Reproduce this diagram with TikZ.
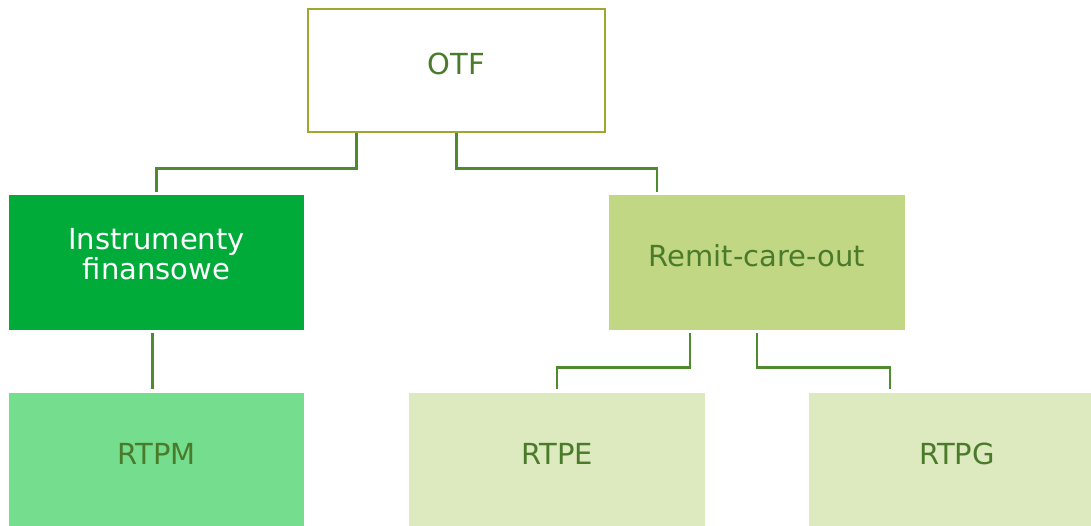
\documentclass[tikz,border=0pt]{standalone}
\usepackage{fontspec}
\setmainfont{DejaVu Sans}
\usepackage{tikz}
\usetikzlibrary{positioning}
\definecolor{txtgreen}{HTML}{4A7B2A}
\definecolor{lngreen}{HTML}{4E8B2F}
\definecolor{olive}{HTML}{9CA82E}
\definecolor{fingreen}{HTML}{00AB39}
\definecolor{remgreen}{HTML}{C2D784}
\definecolor{rtpmgreen}{HTML}{75DE8E}
\definecolor{rtpgreen}{HTML}{DDE9BE}
\tikzstyle{box}=[rectangle, inner sep=0pt, minimum width=296pt, minimum height=135pt, text height=21pt, text depth=13pt, text=txtgreen, font=\fontsize{29}{30}\selectfont]
\tikzstyle{conn}=[draw=lngreen, line width=2.6pt]

\begin{document}
\begin{tikzpicture}[x=1pt, y=-1pt]
	\clip (0,0) rectangle (1091,525);
	\fill[white] (0,0) rectangle (1091,525);
	\node[box, draw=olive, line width=2.8pt, minimum width=297pt, minimum height=123pt] (otf) at (456.5,70.5) {OTF};
	\node[box, fill=fingreen, text=white, align=center, minimum width=295pt, text height=45pt, text depth=12pt] (inst) at (156.5,262.5) {Instrumenty\\finansowe};
	\node[box, fill=remgreen] (remit) at (757,262.5) {Remit-care-out};
	\node[box, fill=rtpmgreen, minimum width=295pt] (rtpm) at (156.5,460) {RTPM};
	\node[box, fill=rtpgreen] (rtpe) at (557,460) {RTPE};
	\node[box, fill=rtpgreen] (rtpg) at (957,460) {RTPG};
	\draw[conn] ([xshift=-100pt]otf.south) -- ++(0,35) -| ([yshift=3pt]inst.north);
	\draw[conn] (otf.south) -- ++(0,35) -| ([xshift=-100pt, yshift=3pt]remit.north);
	\draw[conn] ([xshift=-4pt, yshift=-3pt]inst.south) -- ([xshift=-4pt, yshift=3pt]rtpm.north);
	\draw[conn] ([xshift=-67pt, yshift=-3pt]remit.south) -- ++(0,34) -| ([yshift=3pt]rtpe.north);
	\draw[conn] ([yshift=-3pt]remit.south) -- ++(0,34) -| ([xshift=-67pt, yshift=3pt]rtpg.north);
\end{tikzpicture}
\end{document}
